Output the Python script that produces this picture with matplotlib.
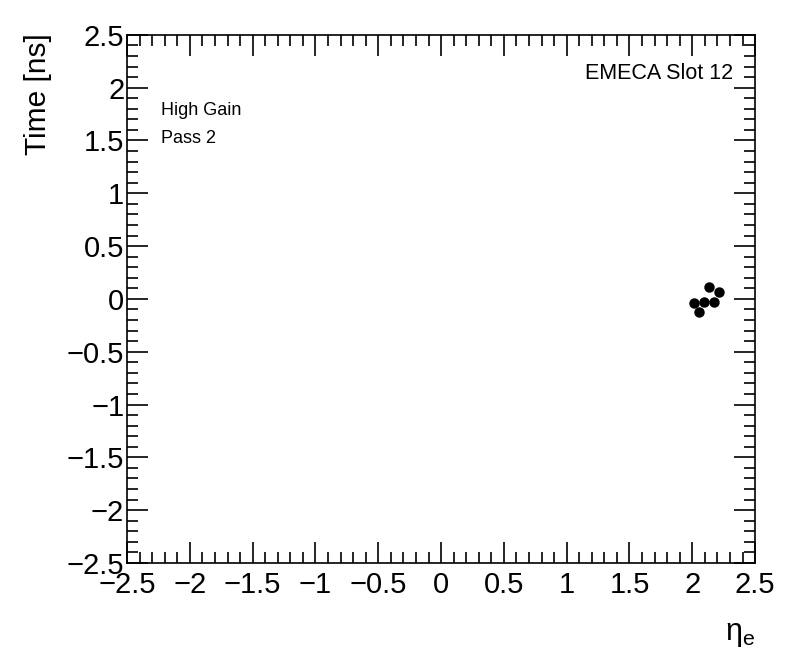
import numpy as np
import matplotlib.pyplot as plt
from matplotlib.ticker import MultipleLocator

plt.rcParams['font.family'] = ['Liberation Sans', 'DejaVu Sans']
plt.rcParams['mathtext.fontset'] = 'custom'
plt.rcParams['mathtext.rm'] = 'Liberation Sans'
plt.rcParams['mathtext.it'] = 'Liberation Sans'

# data
eta = [2.01, 2.05, 2.09, 2.13, 2.17, 2.21]
time_ns = [-0.04, -0.12, -0.03, 0.11, -0.03, 0.07]

fig = plt.figure(figsize=(7.96, 6.72), dpi=100)
ax = fig.add_axes([0.1596, 0.1622, 0.789, 0.786])

ax.plot(eta, time_ns, 'o', color='black', markersize=6.5)

ax.set_xlim(-2.5, 2.5)
ax.set_ylim(-2.5, 2.5)
ax.xaxis.set_major_locator(MultipleLocator(0.5))
ax.xaxis.set_minor_locator(MultipleLocator(0.1))
ax.yaxis.set_major_locator(MultipleLocator(0.5))
ax.yaxis.set_minor_locator(MultipleLocator(0.1))
ax.tick_params(which='both', direction='in', top=True, right=True, width=1.2)
ax.tick_params(which='major', length=15, labelsize=21)
ax.tick_params(axis='x', which='major', pad=6)
ax.tick_params(axis='y', which='major', pad=2)
ax.tick_params(which='minor', length=8)
ax.xaxis.set_major_formatter(plt.FuncFormatter(lambda v, p: ('%g' % v).replace('-', '\u2212')))
ax.yaxis.set_major_formatter(plt.FuncFormatter(lambda v, p: ('%g' % v).replace('-', '\u2212')))
for s in ax.spines.values():
    s.set_linewidth(1.2)

ax.set_ylabel('Time [ns]', fontsize=21.5, loc='top')
ax.yaxis.set_label_coords(-0.12, 1.003)
ax.set_xlabel('\u03b7$_{\\mathrm{e}}$', fontsize=22, loc='right', labelpad=14)

ax.text(0.054, 0.849, 'High Gain', transform=ax.transAxes, fontsize=13)
ax.text(0.054, 0.796, 'Pass 2', transform=ax.transAxes, fontsize=13)
ax.text(0.965, 0.916, 'EMECA Slot 12', transform=ax.transAxes, fontsize=15.5, ha='right')

plt.savefig('out.png', dpi=100)
